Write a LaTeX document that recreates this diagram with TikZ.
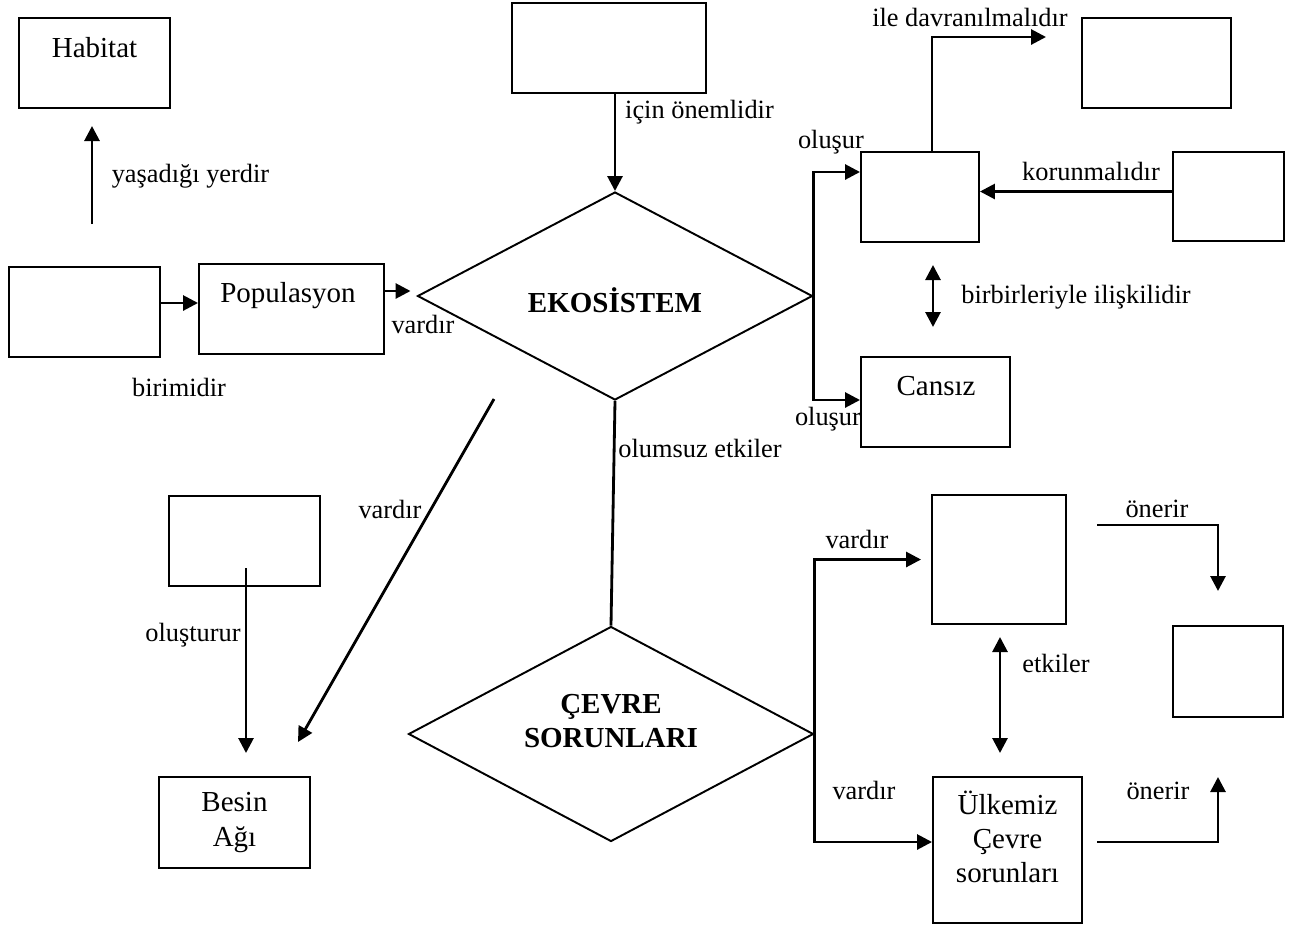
\documentclass[tikz,border=0pt]{standalone}
\usepackage{fontspec}
\setmainfont{Liberation Serif}
\usetikzlibrary{shapes.geometric, arrows.meta, positioning}

\begin{document}
\begin{tikzpicture}[
    kutu/.style={draw, line width=1.1pt, inner sep=0pt},
    karar/.style={draw, diamond, aspect=2, line width=1.1pt, inner sep=0pt},
    yazi/.style={anchor=base, inner sep=0pt, font=\fontsize{16.5}{19.4}\selectfont},
    etiket/.style={anchor=base, inner sep=0pt, font=\fontsize{15}{18}\selectfont},
    ok/.style={-{Triangle[length=0.3cm, width=0.3cm]}, line width=1.6pt},
    ciftok/.style={{Triangle[length=0.3cm, width=0.3cm]}-{Triangle[length=0.3cm, width=0.3cm]}, line width=1.6pt},
    cizgi/.style={line width=1.6pt}]

    \useasboundingbox (0,0) rectangle (26.14,-18.52);

    \node[kutu, minimum width=3.02cm, minimum height=1.8cm] (habitat) at (1.89,-1.26) {};
    \node[yazi] (habitatyazi) at (1.89,-1.14) {Habitat};
    \node[kutu, minimum width=3.02cm, minimum height=1.8cm] (birim) at (1.69,-6.24) {};
    \node[kutu, minimum width=3.7cm, minimum height=1.8cm] (populasyon) at (5.83,-6.18) {};
    \node[yazi] (populasyonyazi) at (5.76,-6.04) {Populasyon};
    \node[kutu, minimum width=3.88cm, minimum height=1.8cm] (onem) at (12.18,-0.96) {};

    \node[karar, minimum width=7.9cm, minimum height=4.16cm] (eko) at (12.30,-5.92) {};
    \node[yazi, font=\fontsize{16.5}{19.4}\selectfont\bfseries] (ekoyazi) at (12.30,-6.24) {EKOSİSTEM};

    \node[kutu, minimum width=2.36cm, minimum height=1.8cm] (canli) at (18.40,-3.94) {};
    \node[kutu, minimum width=2.98cm, minimum height=1.8cm] (davranis) at (23.13,-1.26) {};
    \node[kutu, minimum width=2.22cm, minimum height=1.78cm] (koruma) at (24.57,-3.93) {};
    \node[kutu, minimum width=2.98cm, minimum height=1.8cm] (cansiz) at (18.71,-8.04) {};
    \node[yazi] (cansizyazi) at (18.72,-7.90) {Cansız};

    \node[kutu, minimum width=3.02cm, minimum height=1.8cm] (bireyler) at (4.89,-10.82) {};
    \node[kutu, minimum width=3.02cm, minimum height=1.82cm, align=center, font=\fontsize{16.5}{19.4}\selectfont] (besin) at (4.69,-16.45) {Besin\\Ağı};

    \node[karar, minimum width=8.1cm, minimum height=4.3cm] (cevre) at (12.22,-14.68) {};
    \node[align=center, inner sep=0pt, font=\fontsize{16.5}{19.4}\selectfont\bfseries] (cevreyazi) at (12.22,-14.42) {ÇEVRE\\SORUNLARI};

    \node[kutu, minimum width=2.68cm, minimum height=2.58cm] (sorunlar) at (19.98,-11.19) {};
    \node[kutu, minimum width=2.98cm, minimum height=2.92cm] (ulkemiz) at (20.15,-17.00) {};
    \node[align=center, inner sep=0pt, font=\fontsize{16.5}{19.4}\selectfont] (ulkemizyazi) at (20.15,-16.74) {Ülkemiz\\Çevre\\sorunları};
    \node[kutu, minimum width=2.2cm, minimum height=1.82cm] (cozum) at (24.56,-13.43) {};

    \coordinate (yasam1) at (1.84,-4.48);
    \coordinate (yasam2) at (1.84,-2.52);
    \coordinate (iliski1) at (18.66,-5.30);
    \coordinate (iliski2) at (18.66,-6.54);
    \coordinate (capraz1) at (9.88,-7.98);
    \coordinate (capraz2) at (5.96,-14.84);
    \coordinate (olusum1) at (4.92,-11.36);
    \coordinate (olusum2) at (4.92,-15.06);
    \coordinate (etki1) at (20.0,-12.74);
    \coordinate (etki2) at (20.0,-15.06);
    \coordinate (oneri1) at (21.94,-10.50);
    \coordinate (oneri1uc) at (24.36,-11.82);
    \coordinate (oneri2) at (21.94,-16.84);
    \coordinate (oneri2uc) at (24.36,-15.54);

    \draw[ok] (yasam1) -- (yasam2);
    \draw[ok] ([yshift=0.18cm]birim.east) -- ([yshift=0.18cm]birim.east -| populasyon.west);
    \draw[ok] ([yshift=0.36cm]populasyon.east) -- ([xshift=-0.12cm, yshift=0.1cm]eko.west);
    \draw[ok] (onem.south -| eko.north) -- (eko.north);
    \draw[ok] (eko.east) |- ([yshift=0.5cm]canli.west);
    \draw[ok] (eko.east) |- ([yshift=0.04cm]cansiz.west);
    \draw[ok] ([xshift=0.24cm]canli.north) |- ([xshift=-0.7cm, yshift=0.52cm]davranis.west);
    \draw[ok] ([yshift=0.1cm]koruma.west) -- ([yshift=0.1cm]koruma.west -| canli.east);
    \draw[ciftok] (iliski1) -- (iliski2);
    \draw[cizgi] (eko.south) -- (cevre.north);
    \draw[ok] (capraz1) -- (capraz2);
    \draw[ok] (olusum1) -- (olusum2);
    \draw[ok] (cevre.east) |- ([xshift=-0.2cm]sorunlar.west);
    \draw[ok] (cevre.east) |- ([yshift=0.16cm]ulkemiz.west);
    \draw[ciftok] (etki1) -- (etki2);
    \draw[ok] (oneri1) -| (oneri1uc);
    \draw[ok] (oneri2) -| (oneri2uc);

    \node[etiket] (l1) at (3.81,-3.64) {yaşadığı yerdir};
    \node[etiket] (l2) at (3.58,-7.92) {birimidir};
    \node[etiket] (l3) at (8.46,-6.66) {vardır};
    \node[etiket] (l4) at (13.99,-2.36) {için önemlidir};
    \node[etiket] (l5) at (16.62,-2.96) {oluşur};
    \node[etiket] (l6) at (16.56,-8.50) {oluşur};
    \node[etiket] (l7) at (19.40,-0.52) {ile davranılmalıdır};
    \node[etiket] (l8) at (21.82,-3.60) {korunmalıdır};
    \node[etiket] (l9) at (21.52,-6.06) {birbirleriyle ilişkilidir};
    \node[etiket] (l10) at (14.00,-9.14) {olumsuz etkiler};
    \node[etiket] (l11) at (7.80,-10.36) {vardır};
    \node[etiket] (l12) at (3.86,-12.82) {oluşturur};
    \node[etiket] (l13) at (17.14,-10.96) {vardır};
    \node[etiket] (l14) at (21.12,-13.44) {etkiler};
    \node[etiket] (l15) at (17.28,-15.98) {vardır};
    \node[etiket] (l16) at (23.14,-10.34) {önerir};
    \node[etiket] (l17) at (23.16,-15.98) {önerir};
\end{tikzpicture}
\end{document}
